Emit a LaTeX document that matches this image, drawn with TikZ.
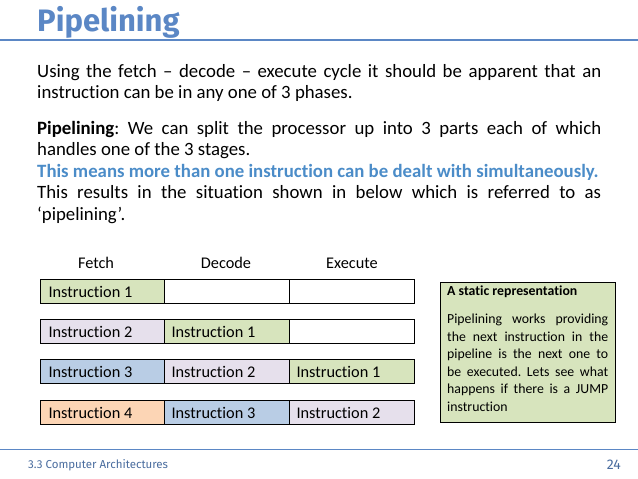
\documentclass[tikz,border=0pt]{standalone}
\usepackage{fontspec}
\setmainfont{Carlito}[Ligatures={NoCommon}]
\newfontfamily\titlefont{Fira Sans}
\frenchspacing
\definecolor{tblue}{RGB}{91,135,197}
\definecolor{cgreen}{RGB}{215,228,189}
\definecolor{clav}{RGB}{230,224,236}
\definecolor{cblue}{RGB}{185,205,229}
\definecolor{corange}{RGB}{252,213,181}
\definecolor{hblue}{RGB}{75,140,200}
\tikzset{
 cell/.style={draw=black, line width=1.2pt, minimum width=125pt, minimum height=24pt, inner sep=0pt, anchor=north west},
 ctext/.style={font=\fontsize{16.3}{18}\selectfont},
 para/.style={anchor=north west, inner sep=0pt, text width=564pt, align=justify, font=\fontsize{18.8}{21.5}\selectfont}
}
\begin{document}
\begin{tikzpicture}[x=1pt,y=-1pt]
\useasboundingbox (0,0) rectangle (638,479);
\node[anchor=base west, inner sep=0pt, text=tblue, font=\titlefont\bfseries\fontsize{31}{33}\selectfont] (title) at (37,31) {Pipelining};
\draw[tblue, line width=2pt] (0,40) -- (638,40);
\node[para] (p1) at (37,64) {Using the fetch -- decode -- execute cycle it should be apparent that an\linebreak instruction can be in any one of 3 phases.};
\node[para] (p2) at (37,121) {\textbf{Pipelining}: We can split the processor up into 3 parts each of which\linebreak handles one of the 3 stages.\\
{\color{hblue}\textbf{This means more than one instruction can be dealt with simultaneously.}}\\
This results in the situation shown in below which is referred to as\linebreak `pipelining'.};
\node[ctext] (lf) at (96,263) {Fetch};
\node[ctext] (ld) at (226,263) {Decode};
\node[ctext] (le) at (352,263) {Execute};
\foreach \r/\y/\a/\ac/\b/\bc/\c/\cc in {
 1/279/Instruction 1/cgreen//white//white,
 2/319/Instruction 2/clav/Instruction 1/cgreen//white,
 3/359/Instruction 3/cblue/Instruction 2/clav/Instruction 1/cgreen,
 4/400/Instruction 4/corange/Instruction 3/cblue/Instruction 2/clav}{
 \node[cell, fill=\ac] (a\r) at (40,\y) {};
 \node[ctext, anchor=west] at ([xshift=5pt]a\r.west) {\a};
 \node[cell, fill=\bc] (b\r) at (164,\y) {};
 \node[ctext, anchor=west] at ([xshift=4pt]b\r.west) {\b};
 \node[cell, fill=\cc] (c\r) at (289,\y) {};
 \node[ctext, anchor=west] at ([xshift=4pt]c\r.west) {\c};
}
\node[draw=black, line width=1.2pt, fill=cgreen, anchor=north west, minimum width=175pt, minimum height=140pt] (sbox) at (440,282) {};
\node[anchor=north west, inner sep=0pt, text width=161pt, align=justify, font=\fontsize{13.8}{17.6}\selectfont] (stext) at (447,286) {\textbf{A static representation}\\[10pt]
Pipelining works providing\linebreak the next instruction in the\linebreak pipeline is the next one to\linebreak be executed. Lets see what\linebreak happens if there is a JUMP\linebreak instruction};
\draw[tblue, line width=1pt] (0,449) -- (638,449);
\node[anchor=base west, inner sep=0pt, text=tblue!80!black, font=\titlefont\fontsize{11.5}{12}\selectfont] (foot) at (28,468) {3.3 Computer Architectures};
\node[anchor=base east, inner sep=0pt, text=tblue!80!black, font=\titlefont\fontsize{14}{15}\selectfont] (pg) at (621,469) {24};
\end{tikzpicture}
\end{document}
